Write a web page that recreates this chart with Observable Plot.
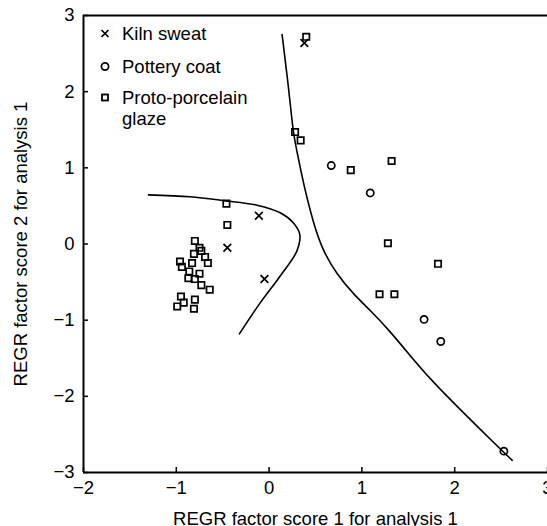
<!DOCTYPE html>
<html>
<head>
<meta charset="utf-8">
<script src="https://cdn.jsdelivr.net/npm/d3@7"></script>
<script src="https://cdn.jsdelivr.net/npm/@observablehq/plot@0.6"></script>
<style>
  html, body { margin: 0; padding: 0; background: white; }
  #wrap { position: relative; width: 547px; height: 526px; font-family: "Liberation Sans", Arial, sans-serif; }
  .leg { position: absolute; left: 96px; font-size: 18.5px; line-height: 21px; color: black; display: flex; align-items: flex-start; }
  .leg svg { width: 18px; height: 21px; flex: none; margin-right: 8px; }
</style>
</head>
<body>
<div id="wrap"></div>
<script>
// Series (factor scores)
const groups = ["Kiln sweat", "Pottery coat", "Proto-porcelain glaze"];

const kilnX = [0.38, -0.11, -0.45, -0.05];
const kilnY = [2.64, 0.37, -0.05, -0.46];

const potteryX = [0.67, 1.09, 1.67, 1.85, 2.53];
const potteryY = [1.03, 0.67, -0.99, -1.28, -2.72];

const glazeX = [0.40, 0.28, 0.34, 0.88, 1.32, 1.28, 1.82, 1.19, 1.35, -0.46, -0.45,
  -0.80, -0.75, -0.73, -0.81, -0.69, -0.66, -0.96, -0.94, -0.83, -0.86, -0.75,
  -0.87, -0.80, -0.73, -0.64, -0.95, -0.80, -0.92, -0.99, -0.81];
const glazeY = [2.72, 1.47, 1.36, 0.97, 1.09, 0.01, -0.26, -0.66, -0.66, 0.53, 0.25,
  0.04, -0.05, -0.09, -0.13, -0.17, -0.25, -0.23, -0.30, -0.25, -0.36, -0.39,
  -0.45, -0.46, -0.54, -0.60, -0.69, -0.73, -0.77, -0.82, -0.85];

// Territorial boundary curves
const rightCurveX = [0.14, 0.14, 0.21, 0.26, 0.30, 0.37, 0.48, 0.58, 0.73, 0.91, 1.09, 1.30, 1.55, 1.75, 2.48, 2.62, 2.62];
const rightCurveY = [2.75, 2.75, 2.06, 1.45, 1.22, 0.79, 0.26, -0.09, -0.40, -0.66, -0.87, -1.14, -1.51, -1.80, -2.68, -2.84, -2.84];

const leftCurveX = [-1.30, -0.85, -0.49, -0.13, 0.12, 0.26, 0.33, 0.30, 0.12, -0.10, -0.32];
const leftCurveY = [0.645, 0.62, 0.57, 0.51, 0.41, 0.28, 0.13, -0.09, -0.42, -0.78, -1.18];

const xTicks = [-2, -1, 0, 1, 2, 3];
const yTicks = [-3, -2, -1, 0, 1, 2, 3];
const xLabel = "REGR factor score 1 for analysis 1";
const yLabel = "REGR factor score 2 for analysis 1";
const symbols = ["times", "circle", "square"];

const points = [
  ...kilnX.map((x, i) => ({x, y: kilnY[i], g: groups[0]})),
  ...potteryX.map((x, i) => ({x, y: potteryY[i], g: groups[1]})),
  ...glazeX.map((x, i) => ({x, y: glazeY[i], g: groups[2]}))
];
const rightCurve = rightCurveX.map((x, i) => ({x, y: rightCurveY[i]}));
const leftCurve = leftCurveX.map((x, i) => ({x, y: leftCurveY[i]}));

const fmt = d3.format("d");

const chart = Plot.plot({
  width: 547,
  height: 526,
  marginLeft: 83,
  marginRight: 0,
  marginTop: 15,
  marginBottom: 54,
  style: {fontFamily: '"Liberation Sans", Arial, sans-serif', fontSize: "18.5px", color: "black", background: "white", overflow: "visible"},
  x: {domain: [-2, 3]},
  y: {domain: [-3, 3]},
  symbol: {domain: groups, range: symbols},
  marks: [
    Plot.axisX(xTicks, {tickSize: -5, tickPadding: 13, strokeWidth: 1.5, tickFormat: fmt, fill: "black", label: xLabel, labelAnchor: "center", labelArrow: "none", labelOffset: 52}),
    Plot.axisY(yTicks, {tickSize: -5, tickPadding: 14, strokeWidth: 1.5, tickFormat: fmt, fill: "black", label: yLabel, labelAnchor: "center", labelArrow: "none", labelOffset: 70}),
    Plot.ruleX([-2], {stroke: "black", strokeWidth: 2}),
    Plot.ruleY([-3, 3], {stroke: "black", strokeWidth: 2}),
    Plot.line(rightCurve, {x: "x", y: "y", curve: "basis", stroke: "black", strokeWidth: 1.6}),
    Plot.line(leftCurve, {x: "x", y: "y", curve: "catmull-rom", stroke: "black", strokeWidth: 1.6}),
    Plot.dot(points, {x: "x", y: "y", symbol: "g", r: 3.6, stroke: "black", strokeWidth: 1.7, fill: "none"})
  ]
});

const wrap = document.getElementById("wrap");
wrap.appendChild(chart);

// Legend (HTML overlay inside the plot area)
const legTops = [23, 56, 87];
const symPaths = {
  times: '<path d="M5.5,7 L12.5,14 M12.5,7 L5.5,14" stroke="black" stroke-width="1.7" fill="none"/>',
  circle: '<circle cx="9" cy="10.5" r="3.6" stroke="black" stroke-width="1.7" fill="none"/>',
  square: '<rect x="6" y="7.5" width="6" height="6" stroke="black" stroke-width="1.8" fill="none"/>'
};
const legLines = [["Kiln sweat"], ["Pottery coat"], ["Proto-porcelain", "glaze"]];
groups.forEach((g, i) => {
  const d = document.createElement("div");
  d.className = "leg";
  d.style.top = legTops[i] + "px";
  d.innerHTML = `<svg viewBox="0 0 18 21">${symPaths[symbols[i]]}</svg><span>${legLines[i].join("<br>")}</span>`;
  wrap.appendChild(d);
});
</script>
</body>
</html>
